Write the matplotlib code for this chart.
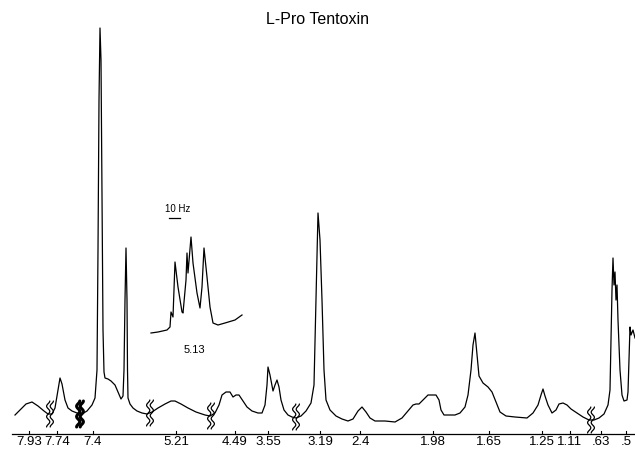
"""Redraw of the L-Pro Tentoxin 1H NMR trace."""

import matplotlib

matplotlib.use("Agg")
import matplotlib.pyplot as plt
import numpy as np

TITLE = "L-Pro Tentoxin"

# spectrum trace: position along the chart, signal height
trace_x = [
    15, 20, 26, 32, 38, 44, 48, 52, 55, 58, 60, 62, 65, 68, 72, 77, 82, 87, 92,
    95, 97, 98, 99, 100, 101, 102, 103, 104, 105, 108, 111, 115, 118, 121, 123,
    124, 125, 126, 127, 127.5, 128, 130, 133, 137, 142, 147, 152, 158, 165, 171,
    175, 181, 188, 196, 205, 210, 215, 219, 222, 226, 230, 233, 236, 239, 243,
    247, 252, 258, 262, 265, 267, 268, 270, 273, 275, 277, 279, 281, 284, 288,
    292, 296, 301, 306, 311, 314, 316, 318, 320, 322, 324, 326, 330, 336, 342,
    348, 353, 358, 362, 366, 370, 375, 385, 395, 402, 408, 413, 416, 419, 423,
    428, 433, 436, 439, 441, 444, 455, 460, 465, 468, 471, 473, 475, 477, 479,
    483, 488, 492, 496, 500, 506, 515, 527, 533, 538, 541, 543, 545, 548, 552,
    556, 559, 563, 567, 571, 577, 583, 589, 594, 599, 604, 608, 610, 611, 612,
    613, 614, 615, 616, 617, 618, 619, 620, 622, 624, 627, 628, 629, 630, 631,
    633, 635,
]
trace_y = [
    19, 24, 30, 32, 28, 23, 20, 20, 26, 44, 56, 50, 34, 26, 23, 21, 20, 23, 29,
    36, 64, 184, 334, 406, 374, 234, 104, 62, 56, 55, 53, 49, 42, 35, 38,
    64, 134, 186, 134, 64, 36, 30, 26, 23, 21, 20, 22, 26, 30, 33,
    33, 30, 26, 22, 19, 18, 21, 29, 39, 42, 42, 37, 39, 39, 33,
    27, 23, 21, 21, 29, 49, 67, 59, 43, 49, 54, 47, 34, 24, 19,
    17, 16, 18, 23, 31, 49, 134, 221, 194, 134, 64, 34, 24, 18, 15,
    13, 15, 23, 27, 22, 16, 13, 13, 12, 16, 23, 29, 30, 30, 34,
    39, 39, 39, 34, 24, 19, 19, 21, 27, 39, 64, 89, 101, 79, 58,
    51, 47, 42, 32, 22, 18, 17, 16, 21, 29, 39, 45, 38, 29, 21,
    24, 30, 31, 29, 25, 21, 17, 14, 14, 16, 20, 29, 44, 94, 144,
    176, 149, 162, 134, 149, 114, 89, 64, 39, 33, 34, 42, 74, 107, 99,
    104, 96,
]

# expanded multiplet at 5.13
inset_x = [
    151, 158, 167, 170, 171, 173, 175, 178, 182, 183, 186, 187, 188, 191, 193,
    197, 200, 202, 204, 207, 210, 213, 218, 225, 235, 242,
]
inset_y = [
    101, 102, 104, 107, 122, 117, 172, 147, 122, 121, 154, 181, 161, 197, 171,
    141, 126, 147, 186, 157, 127, 111, 109, 111, 114, 119,
]

# recorder breaks (wavy marks) along the trace
break_x = [50, 80, 150, 211, 296, 591]
break_y = [20, 20, 21, 18, 17, 14]

tick_labels = ["7.93", "7.74", "7.4", "5.21", "4.49", "3.55", "3.19", "2.4",
               "1.98", "1.65", "1.25", "1.11", ".63", ".5"]
tick_pos = [29, 57, 93, 176, 235, 268, 320, 360, 433, 489, 542, 570, 601, 626]


def draw_break(ax, x, y, lw=0.9):
    """Draw a double wavy break mark centred on (x, y)."""
    t = np.linspace(-1, 1, 40)
    wiggle = 1.6 * np.sin(t * np.pi * 2.5)
    for dx in (-1.8, 1.8):
        ax.plot(x + dx + wiggle, y + 13 * t, color="black", lw=lw,
                solid_capstyle="round")


def main():
    fig = plt.figure(figsize=(6.35, 4.49), dpi=100)
    ax = fig.add_axes([0, 0, 1, 1])
    ax.set_xlim(0, 635)
    ax.set_ylim(-15, 434)
    ax.axis("off")

    ax.plot(trace_x, trace_y, color="black", lw=0.9, solid_joinstyle="round")
    ax.plot(inset_x, inset_y, color="black", lw=0.9, solid_joinstyle="round")

    for i, (bx, by) in enumerate(zip(break_x, break_y)):
        draw_break(ax, bx, by, lw=2.2 if i == 1 else 0.9)

    # chart axis line with tick marks and shift labels
    ax.plot([12, 635], [0, 0], color="black", lw=0.9)
    for pos, label in zip(tick_pos, tick_labels):
        ax.plot([pos, pos], [0, 3], color="black", lw=0.8)
        ax.text(pos, -8, label, ha="center", va="center", fontsize=9.5,
                family="Liberation Sans")

    ax.text(318, 415, TITLE, ha="center", va="center", fontsize=11.5,
            family="Liberation Sans")
    ax.text(178, 225, "10 Hz", ha="center", va="center", fontsize=7,
            family="Liberation Sans")
    ax.plot([169, 180], [216, 216], color="black", lw=0.9)
    ax.text(194, 84, "5.13", ha="center", va="center", fontsize=8,
            family="Liberation Sans")

    fig.savefig("out.png", dpi=100)
    plt.close(fig)


if __name__ == "__main__":
    main()
